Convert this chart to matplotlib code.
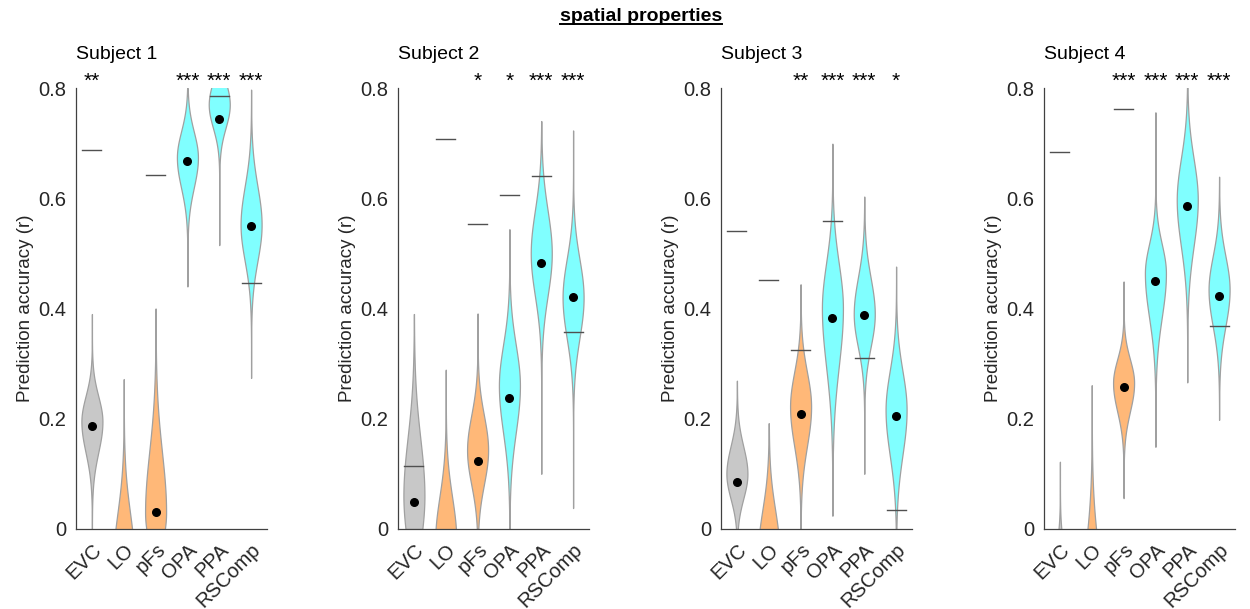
import numpy as np
import matplotlib
matplotlib.use("Agg")
import matplotlib.pyplot as plt
from matplotlib.lines import Line2D

plt.rcParams['font.family'] = ['Liberation Sans', 'DejaVu Sans']

rois = ["EVC", "LO", "pFs", "OPA", "PPA", "RSComp"]
subjects = ["Subject 1", "Subject 2", "Subject 3", "Subject 4"]
roi_colors = ["#c8c8c8", "#ffb878", "#ffb878", "#80ffff", "#80ffff", "#80ffff"]

# black dots (median prediction accuracy), nan = not shown (below 0)
medians = [
    [0.187, np.nan, 0.030, 0.668, 0.743, 0.550],
    [0.049, np.nan, 0.124, 0.238, 0.483, 0.420],
    [0.086, np.nan, 0.209, 0.383, 0.388, 0.205],
    [np.nan, np.nan, 0.257, 0.450, 0.586, 0.423],
]

# horizontal lines (noise ceiling), nan = outside the plotted range
ceilings = [
    [0.688, np.nan, 0.642, np.nan, 0.786, 0.446],
    [0.114, 0.707, 0.554, 0.606, 0.641, 0.357],
    [0.540, 0.452, 0.324, 0.558, 0.310, 0.034],
    [0.683, np.nan, 0.762, np.nan, np.nan, 0.369],
]

stars = [
    ["**", "", "", "***", "***", "***"],
    ["", "", "*", "*", "***", "***"],
    ["", "", "**", "***", "***", "*"],
    ["", "", "***", "***", "***", "***"],
]

# violin outlines: tail bottom, tail top, widest point, spread below / above it
v_lo = [
    [0.0, -0.2, -0.1, 0.44, 0.515, 0.274],
    [0.0, -0.2, 0.0, 0.0, 0.10, 0.038],
    [0.0, -0.2, 0.0, 0.024, 0.10, 0.0],
    [-0.3, -0.4, 0.056, 0.149, 0.266, 0.198],
]
v_hi = [
    [0.39, 0.272, 0.40, 0.80, 0.85, 0.797],
    [0.39, 0.289, 0.391, 0.544, 0.74, 0.723],
    [0.269, 0.192, 0.444, 0.699, 0.603, 0.476],
    [0.122, 0.261, 0.449, 0.756, 0.85, 0.639],
]
v_mode = [
    [0.195, -0.06, 0.03, 0.674, 0.77, 0.552],
    [0.06, -0.02, 0.143, 0.26, 0.50, 0.42],
    [0.10, -0.04, 0.222, 0.40, 0.39, 0.216],
    [-0.11, -0.14, 0.265, 0.464, 0.597, 0.434],
]
v_sdn = [
    [0.056, 0.088, 0.06, 0.055, 0.042, 0.066],
    [0.09, 0.078, 0.062, 0.085, 0.077, 0.074],
    [0.045, 0.075, 0.072, 0.105, 0.06, 0.082],
    [0.055, 0.105, 0.052, 0.08, 0.084, 0.066],
]
v_sup = [
    [0.046, 0.088, 0.11, 0.047, 0.042, 0.07],
    [0.105, 0.078, 0.063, 0.074, 0.078, 0.07],
    [0.05, 0.075, 0.063, 0.082, 0.066, 0.071],
    [0.055, 0.105, 0.043, 0.053, 0.075, 0.061],
]

half_width = 0.33

fig = plt.figure(figsize=(12.5, 6.09), dpi=100)

lefts = [76, 398, 721, 1044]
for s in range(4):
    ax = fig.add_axes([lefts[s] / 1250, 80 / 609, 191 / 1250, 441 / 609])
    x = np.arange(1, 7)
    for i in range(6):
        y = np.linspace(v_lo[s][i], v_hi[s][i], 400)
        sd = np.where(y < v_mode[s][i], v_sdn[s][i], v_sup[s][i])
        w = half_width * np.exp(-0.5 * ((y - v_mode[s][i]) / sd) ** 2)
        ax.fill_betweenx(y, x[i] - w, x[i] + w, facecolor=roi_colors[i],
                         edgecolor="#a0a0a0", linewidth=0.9, zorder=2)
        if not np.isnan(ceilings[s][i]):
            ax.plot([x[i] - 0.3, x[i] + 0.3], [ceilings[s][i]] * 2,
                    color="#505050", linewidth=1.0, zorder=3)
        if not np.isnan(medians[s][i]):
            ax.scatter(x[i], medians[s][i], s=30, color="black", zorder=4)
        if stars[s][i]:
            ax.text(x[i], 0.812, stars[s][i], ha="center", va="center",
                    fontsize=15, clip_on=False)
    ax.set_xlim(0.5, 6.5)
    ax.set_ylim(0, 0.8)
    ax.set_yticks([0, 0.2, 0.4, 0.6, 0.8])
    ax.set_yticklabels(["0", "0.2", "0.4", "0.6", "0.8"])
    ax.set_xticks(x)
    ax.set_xticklabels(rois, rotation=45, ha="right", rotation_mode="anchor")
    ax.tick_params(length=0, labelsize=14.5, colors="#262626", pad=7)
    ax.tick_params(axis="x", pad=8)
    ax.spines["top"].set_visible(False)
    ax.spines["right"].set_visible(False)
    for sp in ["left", "bottom"]:
        ax.spines[sp].set_color("#404040")
        ax.spines[sp].set_linewidth(0.9)
    ax.set_ylabel("Prediction accuracy (r)", fontsize=13.5, color="#262626",
                  labelpad=3)
    ax.set_title(subjects[s], loc="left", fontsize=14, pad=21)

title = fig.text(0.513, 0.973, "spatial properties", ha="center", va="center",
                 fontsize=14, fontweight="bold")
fig.canvas.draw()
bb = title.get_window_extent().transformed(fig.transFigure.inverted())
fig.add_artist(Line2D([bb.x0, bb.x1], [bb.y0 + 0.001, bb.y0 + 0.001],
                      transform=fig.transFigure, color="black", linewidth=1.4))

fig.savefig("out.png", dpi=100)
